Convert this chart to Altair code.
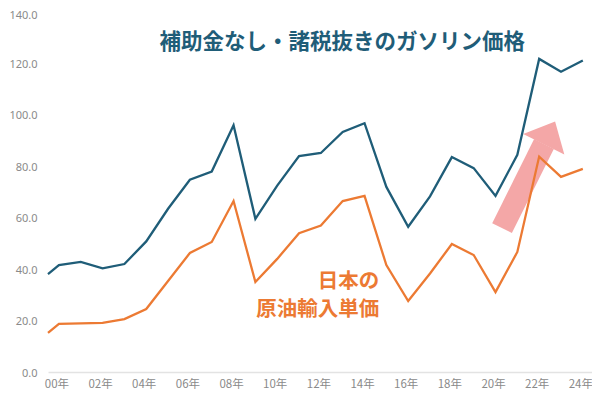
import altair as alt
import pandas as pd

years = [1999.5] + list(range(2000, 2025))
gasoline = [38.1, 41.6, 42.8, 40.3, 42.0, 50.8, 63.5, 74.8, 78.0, 96.0, 59.6, 72.5,
            84.0, 85.2, 93.4, 96.8, 72.0, 56.5, 68.3, 83.6, 79.3, 68.5, 84.5, 121.8,
            116.8, 121.2]
crude = [15.2, 18.7, 18.9, 19.1, 20.6, 24.5, 35.4, 46.3, 50.6, 66.5, 35.0, 44.0,
         54.0, 57.0, 66.5, 68.5, 41.6, 27.6, 38.3, 49.8, 45.5, 31.1, 46.7, 83.8,
         75.9, 79.0]
tick_years = list(range(2000, 2025, 2))
y_ticks = [0, 20, 40, 60, 80, 100, 120, 140]

title_text = "補助金なし・諸税抜きのガソリン価格"
crude_label = "日本の\n原油輸入単価"

BLUE = "#1F5D78"
ORANGE = "#EC7A33"
PINK = "#F4A7A7"
FONT = "Noto Sans CJK JP"

df = pd.DataFrame({
    "year": years * 2,
    "value": gasoline + crude,
    "series": ["gas"] * len(years) + ["crude"] * len(years),
})

xscale = alt.Scale(domain=[1999.5, 2024.42], nice=False, zero=False)
yscale = alt.Scale(domain=[0, 141.6], nice=False)

x_enc = alt.X("year:Q", scale=xscale, axis=alt.Axis(
    values=tick_years, labelExpr="substring(toString(datum.value), 2) + '年'",
    title=None, grid=False, ticks=False, domain=True, domainColor="#E3E3E3",
    domainWidth=1.5, labelColor="#8A8A8A", labelFontSize=11.5, labelFont=FONT,
    labelPadding=6, labelOffset=-2.5))
y_enc = alt.Y("value:Q", scale=yscale, axis=alt.Axis(
    values=y_ticks, format=".1f", title=None, grid=False, ticks=False, domain=False,
    labelColor="#8A8A8A", labelFontSize=11, labelFont="Noto Sans", labelPadding=11,
    labelOffset=alt.condition("datum.value == 140", alt.value(3), alt.value(1))))

# arrow annotation (in data space)
arrow_shaft = pd.DataFrame({"year": [2020.3, 2022.22], "value": [56.0, 88.7]})
arrow_head = pd.DataFrame({"year": [2022.47], "value": [93.0]})

shaft = alt.Chart(arrow_shaft).mark_line(color=PINK, strokeWidth=22, strokeCap="butt").encode(
    x=alt.X("year:Q", scale=xscale), y=alt.Y("value:Q", scale=yscale))
head = alt.Chart(arrow_head).mark_point(
    shape="M -1 0.55 L 0 -0.55 L 1 0.55 Z", filled=True, color=PINK, opacity=1,
    size=2116, angle=26.6, strokeWidth=0).encode(
    x=alt.X("year:Q", scale=xscale), y=alt.Y("value:Q", scale=yscale))

lines = alt.Chart(df).mark_line(strokeWidth=2.3).encode(
    x=x_enc, y=y_enc,
    color=alt.Color("series:N", scale=alt.Scale(domain=["gas", "crude"], range=[BLUE, ORANGE]),
                    legend=None),
    detail="series:N")

title_df = pd.DataFrame({"year": [2012.98], "value": [128.0], "t": [title_text]})
title = alt.Chart(title_df).mark_text(
    font=FONT, fontSize=21.5, fontWeight="bold", color=BLUE, align="center",
    baseline="middle").encode(
    x=alt.X("year:Q", scale=xscale), y=alt.Y("value:Q", scale=yscale), text="t:N")

lab_df = pd.DataFrame({"year": [2014.67], "value": [39.0], "t": [crude_label]})
lab = alt.Chart(lab_df).mark_text(
    font=FONT, fontSize=20.5, fontWeight="bold", color=ORANGE, align="right",
    baseline="top", lineBreak="\n", lineHeight=28).encode(
    x=alt.X("year:Q", scale=xscale), y=alt.Y("value:Q", scale=yscale), text="t:N")

chart = alt.layer(shaft, head, lines, title, lab).properties(
    width=544, height=364,
    padding={"left": 40, "top": 0, "right": 0, "bottom": 19},
    autosize=alt.AutoSizeParams(type="none"),
    background="white",
).configure_view(stroke=None)

chart.save("out.html", embed_options={"renderer": "svg", "actions": False})
